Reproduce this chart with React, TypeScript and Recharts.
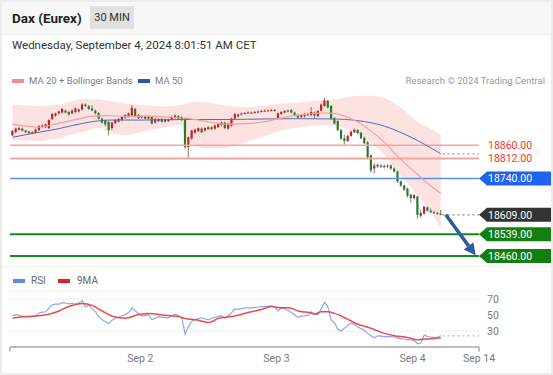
import React from "react";
import {
  ComposedChart, Bar, Line, Area, XAxis, YAxis, ReferenceLine, CartesianGrid,
} from "recharts";

// ── Data (DAX Eurex, 30-min candles up to Sep 4 08:00) ─────────────────

// open, high, low, close
const ohlc: [number, number, number, number][] = [
  [18896, 18915, 18893, 18911], [18907, 18924, 18904, 18920], [18916, 18927, 18913, 18922], [18920, 18924, 18909, 18913],
  [18913, 18916, 18904, 18907], [18909, 18913, 18900, 18904], [18904, 18911, 18900, 18907], [18905, 18920, 18902, 18916],
  [18915, 18933, 18911, 18929], [18927, 18936, 18922, 18931], [18925, 18938, 18922, 18935], [18922, 18955, 18918, 18951],
  [18955, 18976, 18951, 18973], [18967, 18978, 18962, 18975], [18975, 18985, 18971, 18982], [18978, 18995, 18975, 18991],
  [18985, 18989, 18975, 18978], [18980, 18984, 18967, 18971], [18975, 18989, 18971, 18985], [18980, 18996, 18976, 18993],
  [18989, 18993, 18978, 18982], [18989, 19011, 18985, 19007], [19007, 19011, 18998, 19002], [19002, 19005, 18987, 18991],
  [18993, 19005, 18984, 18985], [18985, 18989, 18971, 18975], [18976, 18980, 18953, 18956], [18956, 18960, 18938, 18942],
  [18949, 18953, 18929, 18935], [18944, 18947, 18896, 18915], [18922, 18945, 18915, 18942], [18940, 18955, 18936, 18951],
  [18945, 18958, 18942, 18955], [18951, 18965, 18947, 18962], [18960, 18973, 18956, 18969], [18964, 18978, 18960, 18975],
  [18967, 19005, 18965, 18995], [18991, 18995, 18960, 18964], [18969, 18973, 18955, 18958], [18965, 18969, 18956, 18960],
  [18964, 18967, 18953, 18956], [18956, 18967, 18953, 18964], [18962, 18965, 18935, 18938], [18942, 18958, 18938, 18955],
  [18947, 18958, 18944, 18955], [18955, 18958, 18942, 18945], [18945, 18956, 18942, 18953], [18953, 18956, 18944, 18947],
  [18953, 18965, 18949, 18962], [18960, 18971, 18956, 18967], [18965, 18969, 18953, 18956], [18962, 18965, 18947, 18951],
  [18955, 18958, 18847, 18853], [18853, 18891, 18811, 18889], [18884, 18916, 18880, 18913], [18905, 18920, 18902, 18916],
  [18911, 18925, 18907, 18922], [18920, 18924, 18904, 18907], [18913, 18925, 18909, 18922], [18918, 18929, 18915, 18925],
  [18925, 18929, 18915, 18918], [18920, 18935, 18916, 18931], [18925, 18942, 18922, 18938], [18933, 18945, 18929, 18942],
  [18942, 18945, 18918, 18922], [18920, 18942, 18916, 18938], [18931, 18960, 18927, 18956], [18956, 18976, 18953, 18973],
  [18964, 18975, 18960, 18971], [18971, 18978, 18967, 18975], [18975, 18980, 18971, 18976], [18976, 18982, 18973, 18978],
  [18978, 18982, 18973, 18976], [18976, 18984, 18975, 18980], [18980, 18985, 18976, 18982], [18982, 18987, 18978, 18984],
  [18984, 18989, 18980, 18985], [18985, 18989, 18982, 18986], [18985, 18991, 18982, 18987], [18987, 18991, 18982, 18985],
  [18958, 18978, 18955, 18975], [18973, 18984, 18969, 18980], [18978, 18987, 18975, 18984], [18982, 18989, 18978, 18985],
  [18987, 18991, 18975, 18978], [18978, 18982, 18964, 18967], [18969, 18973, 18956, 18960], [18962, 18973, 18958, 18969],
  [18964, 18976, 18960, 18973], [18969, 18976, 18965, 18973], [18969, 18998, 18965, 18980], [18978, 18982, 18958, 18967],
  [18965, 18987, 18962, 18984], [18985, 19011, 18982, 19007], [19002, 19031, 18998, 19022], [19020, 19024, 18993, 18996],
  [19002, 19005, 18953, 18956], [18958, 18962, 18935, 18938], [18947, 18951, 18911, 18915], [18915, 18918, 18878, 18884],
  [18885, 18898, 18862, 18875], [18875, 18898, 18873, 18894], [18894, 18913, 18891, 18909], [18907, 18920, 18904, 18916],
  [18915, 18918, 18900, 18904], [18905, 18909, 18882, 18885], [18887, 18891, 18864, 18867], [18871, 18875, 18809, 18816],
  [18824, 18827, 18762, 18769], [18776, 18795, 18758, 18787], [18784, 18793, 18778, 18789], [18787, 18791, 18778, 18782],
  [18782, 18791, 18776, 18785], [18784, 18791, 18778, 18787], [18787, 18791, 18771, 18776], [18776, 18780, 18762, 18765],
  [18765, 18769, 18724, 18729], [18729, 18733, 18709, 18715], [18715, 18718, 18695, 18700], [18704, 18707, 18671, 18678],
  [18682, 18685, 18653, 18669], [18669, 18684, 18664, 18680], [18675, 18678, 18595, 18609], [18616, 18627, 18598, 18605],
  [18613, 18642, 18609, 18638], [18636, 18640, 18620, 18624], [18624, 18631, 18615, 18618], [18618, 18624, 18613, 18616],
  [18616, 18620, 18609, 18613], [18613, 18627, 18607, 18609],
];

// Bollinger bands, read at these candle indices
const bandIdx = [0, 8, 14, 18, 22, 26, 31, 34, 40, 46, 51, 52, 54, 58, 63, 69, 75, 80, 87, 93, 99, 103, 108, 112, 117, 122, 126, 129];
const bandUpper = [19007, 19002, 19007, 19020, 19027, 19025, 19016, 19011, 19004, 19000, 19005, 19008, 19016, 19015, 19005, 18998, 19002, 19009, 19015, 19022, 19029, 19038, 19040, 19031, 18996, 18944, 18920, 18900];
const bandLower = [18878, 18875, 18885, 18900, 18911, 18922, 18900, 18896, 18911, 18925, 18933, 18889, 18867, 18849, 18849, 18867, 18889, 18911, 18925, 18933, 18925, 18907, 18867, 18824, 18751, 18678, 18620, 18558];

const ma20Idx = [0, 8, 14, 20, 24, 28, 34, 40, 46, 52, 58, 64, 70, 77, 80, 85, 93, 96, 100, 104, 108, 112, 116, 120, 124, 129];
const ma20 = [18936, 18925, 18940, 18955, 18965, 18967, 18964, 18965, 18962, 18958, 18947, 18936, 18938, 18947, 18956, 18967, 18976, 18976, 18965, 18944, 18911, 18871, 18820, 18776, 18733, 18686];

const ma50Idx = [0, 8, 14, 18, 24, 30, 40, 52, 64, 77, 86, 96, 104, 112, 120, 124, 129];
const ma50 = [18889, 18907, 18920, 18931, 18945, 18951, 18951, 18953, 18953, 18955, 18956, 18955, 18949, 18929, 18889, 18864, 18829];

const rsi = [
  49, 50.5, 50, 48, 47.5, 47.5, 48, 49, 52.5, 53.5,
  54, 58.5, 63, 63.5, 63.5, 65.5, 65, 64, 64.5, 63.5,
  65, 68, 60, 62.5, 58, 54, 48, 44, 42, 39,
  43.5, 46, 47.5, 49, 50.5, 53, 59, 55, 52, 49,
  49.5, 50, 44, 46, 48, 47, 47, 46.5, 49, 51,
  49, 46.5, 26, 36, 42, 44, 45.5, 46.5, 45, 44,
  46, 47, 48.5, 49, 46, 49, 53, 57.5, 57, 58,
  59, 59, 59, 59.5, 60, 60.5, 60.5, 61, 61.5, 60,
  55, 58.5, 58, 56, 53, 50, 47, 48.5, 49, 49.5,
  54, 51, 50.5, 58, 66, 60, 43.5, 40, 32, 30,
  33.5, 37, 40, 38, 35, 33, 31, 27, 24, 21.5,
  24, 23.5, 23, 23, 23, 22.5, 21, 20.5, 20, 19,
  19, 18, 14, 15, 25, 23, 22.5, 22, 22.5, 24,
];

const rsiMaIdx = [0, 4, 8, 11, 14, 16, 19, 21, 24, 27, 30, 34, 38, 41, 45, 50, 52, 56, 59, 60, 62, 66, 71, 75, 78, 81, 83, 87, 89, 91, 93, 95, 97, 101, 104, 108, 112, 115, 119, 122, 125, 129];
const rsiMa = [46, 48, 49, 51, 55, 59, 63, 64.5, 62, 55, 48.5, 46, 50.5, 52, 50, 48, 45.5, 43.5, 40.5, 41.5, 46, 48, 53, 57, 60.5, 59, 59, 54, 53.5, 51, 54, 54, 52, 44.5, 38.5, 33.5, 27, 24, 22, 19, 20, 21.5];

const resistances = [18860, 18812];
const pivot = 18740;
const supports = [18539, 18460];
const lastPrice = 18609;

const dayTickIdx = [38.5, 79.5, 120.5];
const dayTickLabels = ["Sep 2", "Sep 3", "Sep 4"];
const horizonLabel = "Sep 14";

// ── Derived rows ────────────────────────────────────────────────────────

const X_MIN = -0.75;
const X_MAX = 140.5;
const lastIdx = ohlc.length - 1;

const candleRows = ohlc.map(([open, high, low, close], i) => ({ i, open, high, low, close, range: [low, high] }));
const bandRows = bandIdx.map((i, k) => ({ i, band: [bandLower[k], bandUpper[k]] }));
const ma20Rows = ma20Idx.map((i, k) => ({ i, ma20: ma20[k] }));
const ma50Rows = ma50Idx.map((i, k) => ({ i, ma50: ma50[k] }));
const rsiRows = rsi.map((v, i) => ({ i, rsi: v }));
const rsiMaRows = rsiMaIdx.map((i, k) => ({ i, rsiMa: rsiMa[k] }));

const UP = "#c8201e";
const DOWN = "#2b7a2b";
const FONT = 'Roboto, "Noto Sans", Arial, sans-serif';

// ── Shapes ──────────────────────────────────────────────────────────────

function Candle(props: any) {
  const { x, y, width, height, payload } = props;
  if (x == null || !payload) return null;
  const { open, high, low, close } = payload;
  const top0 = Math.min(y, y + height);
  const h = Math.abs(height);
  const cx = x + width / 2;
  const span = high - low || 1;
  const toY = (v: number) => top0 + ((high - v) / span) * h;
  const bTop = toY(Math.max(open, close));
  const bBot = toY(Math.min(open, close));
  return (
    <g>
      <line x1={cx} x2={cx} y1={top0} y2={top0 + h} stroke="#6f6f6f" strokeWidth={0.9} />
      <rect x={cx - 1.1} y={bTop} width={2.2} height={Math.max(bBot - bTop, 1)} fill={close >= open ? UP : DOWN} />
    </g>
  );
}

function PriceTag(props: any) {
  const { viewBox, text, bg, color } = props;
  if (!viewBox) return null;
  const x0 = viewBox.x + viewBox.width;
  const y = viewBox.y;
  const h = 14;
  const w = 72;
  return (
    <g>
      {bg && (
        <path
          d={`M${x0},${y} L${x0 + 8},${y - h / 2} L${x0 + w},${y - h / 2} L${x0 + w},${y + h / 2} L${x0 + 8},${y + h / 2} Z`}
          fill={bg}
        />
      )}
      <text x={x0 + 9} y={y} dy="0.36em" fill={color} fontSize={10.5} fontFamily={FONT}>{text}</text>
    </g>
  );
}

function Arrow(props: any) {
  const { x1, y1, x2, y2 } = props;
  if (x1 == null) return null;
  const a = Math.atan2(y2 - y1, x2 - x1);
  const head = 12;
  const half = 6;
  const bx = x2 - head * Math.cos(a);
  const by = y2 - head * Math.sin(a);
  const pts = `${x2},${y2} ${bx - half * Math.sin(a)},${by + half * Math.cos(a)} ${bx + half * Math.sin(a)},${by - half * Math.cos(a)}`;
  return (
    <g>
      <line x1={x1} y1={y1} x2={bx} y2={by} stroke="#2d5d9f" strokeWidth={3.5} />
      <polygon points={pts} fill="#2d5d9f" />
    </g>
  );
}

function DayTick(props: any) {
  const { x, y, payload } = props;
  const v = payload?.value;
  const k = dayTickIdx.indexOf(v);
  const label = k >= 0 ? dayTickLabels[k] : v === X_MAX ? horizonLabel : null;
  const isEnd = v === X_MIN || v === X_MAX;
  return (
    <g>
      {isEnd && <line x1={x} x2={x} y1={y - 8} y2={y - 3.5} stroke="#a8a8a8" strokeWidth={1.5} />}
      {label && (
        <text x={x} y={y} dy="0.71em" textAnchor="middle" fill="#7a7a7a" fontSize={10.5} fontFamily={FONT}>{label}</text>
      )}
    </g>
  );
}

function Swatch({ color, left, top }: { color: string; left: number; top: number }) {
  return <div style={{ position: "absolute", left, top, width: 12, height: 4, background: color }} />;
}

// ── App ─────────────────────────────────────────────────────────────────

export default function App() {
  const legendText: React.CSSProperties = { position: "absolute", fontSize: 9.5, color: "#808080", lineHeight: "12px" };
  return (
    <div style={{ position: "absolute", left: 0, top: 0, width: 553, height: 375, background: "#fff", fontFamily: FONT, overflow: "hidden" }}>
      {/* header */}
      <div style={{ position: "absolute", left: 0, top: 0, width: 553, height: 34, background: "#f8f8f8", borderBottom: "1px solid #ebebeb" }} />
      <div style={{ position: "absolute", left: 12, top: 10, fontSize: 13.5, fontWeight: 700, color: "#222", lineHeight: "16px" }}>Dax (Eurex)</div>
      <div style={{ position: "absolute", left: 90, top: 6, width: 44, height: 23, background: "#e1e1e1", color: "#333", fontSize: 11, lineHeight: "23px", textAlign: "center" }}>30 MIN</div>
      <div style={{ position: "absolute", left: 12, top: 37, fontSize: 11.5, color: "#333", lineHeight: "16px" }}>Wednesday, September 4, 2024 8:01:51 AM CET</div>

      {/* main legend */}
      <Swatch color="#f58c8c" left={12} top={79} />
      <div style={{ ...legendText, left: 29, top: 75 }}>MA 20 + Bollinger Bands</div>
      <Swatch color="#2c5a9e" left={138} top={79} />
      <div style={{ ...legendText, left: 155, top: 75 }}>MA 50</div>
      <div style={{ ...legendText, right: 8, top: 75, color: "#9a9a9a" }}>Research © 2024 Trading Central</div>

      {/* price panel */}
      <div style={{ position: "absolute", left: 0, top: 88 }}>
        <ComposedChart width={553} height={180} data={candleRows} margin={{ top: 6, right: 74, bottom: 5, left: 10 }}>
          <XAxis type="number" dataKey="i" domain={[X_MIN, X_MAX]} hide allowDataOverflow />
          <YAxis type="number" domain={[18435, 19045]} hide allowDataOverflow />
          <Area data={bandRows} dataKey="band" type="monotone" stroke="none" fill="#fde2e2" fillOpacity={1} connectNulls isAnimationActive={false} />
          <ReferenceLine y={resistances[0]} stroke="#f6a3a3" strokeWidth={1.5} label={<PriceTag text={resistances[0].toFixed(2)} color="#ef3434" />} />
          <ReferenceLine y={resistances[1]} stroke="#f6a3a3" strokeWidth={2} label={<PriceTag text={resistances[1].toFixed(2)} color="#ef3434" />} />
          <ReferenceLine y={pivot} stroke="#5a8ef6" strokeWidth={1.5} label={<PriceTag text={pivot.toFixed(2)} bg="#1f63f0" color="#fff" />} />
          <ReferenceLine y={supports[0]} stroke="#178a17" strokeWidth={2} label={<PriceTag text={supports[0].toFixed(2)} bg="#117f11" color="#fff" />} />
          <ReferenceLine y={supports[1]} stroke="#178a17" strokeWidth={2} label={<PriceTag text={supports[1].toFixed(2)} bg="#117f11" color="#fff" />} />
          <Line data={ma50Rows} dataKey="ma50" type="monotone" stroke="#4a72b6" strokeWidth={1} dot={false} activeDot={false} isAnimationActive={false} />
          <Line data={ma20Rows} dataKey="ma20" type="monotone" stroke="#f5a0a0" strokeWidth={1.2} dot={false} activeDot={false} isAnimationActive={false} />
          <ReferenceLine
            segment={[{ x: lastIdx + 0.5, y: ma50[ma50.length - 1] }, { x: X_MAX, y: ma50[ma50.length - 1] }]}
            stroke="#7f9fd0" strokeDasharray="2 3" strokeWidth={1.2}
          />
          <ReferenceLine
            segment={[{ x: lastIdx + 0.5, y: lastPrice }, { x: X_MAX, y: lastPrice }]}
            stroke="#8a8a8a" strokeDasharray="2 3" strokeWidth={1.2}
            label={<PriceTag text={lastPrice.toFixed(2)} bg="#333333" color="#fff" />}
          />
          <Bar dataKey="range" barSize={3} shape={<Candle />} isAnimationActive={false} />
          <ReferenceLine
            segment={[{ x: lastIdx + 1.5, y: lastPrice }, { x: X_MAX - 1, y: supports[1] + 2 }]}
            shape={<Arrow />}
          />
        </ComposedChart>
      </div>

      <div style={{ position: "absolute", left: 2, top: 266, width: 549, borderTop: "1px dotted #e2e2e2" }} />

      {/* RSI legend */}
      <Swatch color="#6488ea" left={13} top={279} />
      <div style={{ ...legendText, left: 31, top: 275, fontSize: 10, color: "#666" }}>RSI</div>
      <Swatch color="#ee1c1c" left={58} top={279} />
      <div style={{ ...legendText, left: 77, top: 275, fontSize: 10, color: "#666" }}>9MA</div>

      {/* RSI panel */}
      <div style={{ position: "absolute", left: 0, top: 285 }}>
        <ComposedChart width={553} height={85} data={rsiRows} margin={{ top: 6, right: 0, bottom: 0, left: 10 }}>
          <CartesianGrid vertical={false} stroke="#c4c4c4" strokeDasharray="1 3" />
          <XAxis
            type="number" dataKey="i" domain={[X_MIN, X_MAX]} allowDataOverflow
            ticks={[X_MIN, ...dayTickIdx, X_MAX]} interval={0} tick={<DayTick />}
            tickLine={false} axisLine={{ stroke: "#a8a8a8", strokeWidth: 1.5 }} height={23}
          />
          <YAxis
            type="number" orientation="right" domain={[10, 80]} ticks={[30, 50, 70]} width={74}
            axisLine={false} tickLine={false} tick={{ fill: "#7a7a7a", fontSize: 10.5 }}
          />
          <Line dataKey="rsi" type="linear" stroke="#8aa6ee" strokeWidth={1.2} dot={false} activeDot={false} isAnimationActive={false} />
          <Line data={rsiMaRows} dataKey="rsiMa" type="monotone" stroke="#ef4a4a" strokeWidth={1.5} dot={false} activeDot={false} isAnimationActive={false} />
          <ReferenceLine
            segment={[{ x: lastIdx + 0.5, y: rsi[lastIdx] }, { x: X_MAX, y: rsi[lastIdx] }]}
            stroke="#9fb5f0" strokeDasharray="2 3" strokeWidth={1.3}
          />
        </ComposedChart>
      </div>

      <div style={{ position: "absolute", inset: 0, border: "2px solid #ececec", pointerEvents: "none" }} />
    </div>
  );
}
